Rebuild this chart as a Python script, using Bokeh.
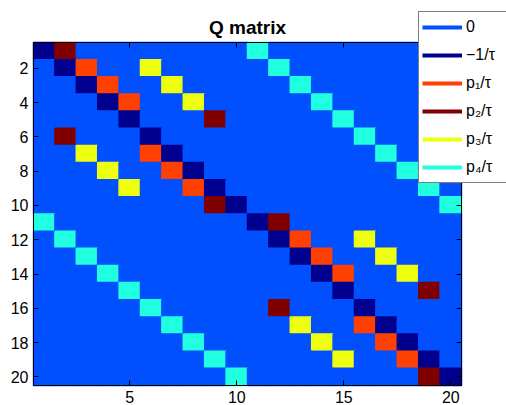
from bokeh.plotting import figure
from bokeh.models import (Range1d, LinearAxis, FixedTicker, ColumnDataSource, Legend,
                          LegendItem, Label)
from bokeh.embed import file_html
from bokeh.resources import INLINE

N = 20
# non-zero entries of Q (row, col), 1-based
neg_rows = list(range(1, 21))
neg_cols = list(range(1, 21))
p1_rows = [2, 3, 4, 7, 8, 9, 12, 13, 14, 17, 18, 19]
p1_cols = [3, 4, 5, 6, 7, 8, 13, 14, 15, 16, 17, 18]
p2_rows = [1, 5, 6, 10, 11, 15, 16, 20]
p2_cols = [2, 9, 2, 9, 12, 19, 12, 19]
p3_rows = [2, 3, 4, 7, 8, 9, 12, 13, 14, 17, 18, 19]
p3_cols = [6, 7, 8, 3, 4, 5, 16, 17, 18, 13, 14, 15]
p4_rows = list(range(1, 21))
p4_cols = list(range(11, 21)) + list(range(1, 11))

labels = ["0", "\u22121/\u03c4", "p\u2081/\u03c4", "p\u2082/\u03c4", "p\u2083/\u03c4", "p\u2084/\u03c4"]
colors = ["#0050ff", "#00008f", "#ff4000", "#800000", "#efff10", "#20ffdf"]
x_ticks = [5, 10, 15, 20]
y_ticks = [2, 4, 6, 8, 10, 12, 14, 16, 18, 20]
title_text = "Q matrix"

code = [[0] * N for _ in range(N)]
for k, (rr, cc) in enumerate([(neg_rows, neg_cols), (p1_rows, p1_cols), (p2_rows, p2_cols),
                               (p3_rows, p3_cols), (p4_rows, p4_cols)], start=1):
    for r, c in zip(rr, cc):
        code[r - 1][c - 1] = k

xs, ys, cs = [], [], []
for r in range(N):
    for c in range(N):
        xs.append(c + 1)
        ys.append(r + 1)
        cs.append(colors[code[r][c]])
src = ColumnDataSource(dict(x=xs, y=ys, color=cs))

# layout (pixels): canvas, and where the matrix box sits in it
W, H = 506, 405
LEFT, TOP, MW, MH = 33, 42, 428, 343
lo, hi = 0.5, N + 0.5
x0 = lo - N * LEFT / MW
x1 = lo + N * (W - LEFT) / MW
y_top = lo - N * TOP / MH
y_bot = lo + N * (H - TOP) / MH

FONT = "Liberation Sans"
p = figure(width=W, height=H, output_backend="svg", toolbar_location=None,
           x_range=Range1d(x0, x1), y_range=Range1d(y_bot, y_top),
           min_border_left=0, min_border_right=0, min_border_top=0, min_border_bottom=0)
p.outline_line_color = None
p.xgrid.visible = False
p.ygrid.visible = False
p.background_fill_color = "white"
p.border_fill_color = "white"

p.rect(x="x", y="y", width=1, height=1, fill_color="color", line_color="color",
       line_width=1.5, source=src)

def style(ax, show, loc):
    ax.fixed_location = loc
    ax.bounds = (lo, hi)
    ax.axis_line_color = "black"
    ax.axis_line_width = 1
    ax.major_tick_in = 5
    ax.major_tick_out = 0
    ax.minor_tick_line_color = None
    ax.major_tick_line_color = "black"
    ax.major_label_text_font = FONT
    ax.major_label_text_font_size = "16px" if show else "0px"
    ax.major_label_text_color = "black" if show else None
    ax.major_label_standoff = 5

xt = FixedTicker(ticks=x_ticks)
yt = FixedTicker(ticks=y_ticks)
p.xaxis.ticker = xt
p.yaxis.ticker = yt
style(p.xaxis[0], True, hi)
style(p.yaxis[0], True, lo)
top = LinearAxis(ticker=xt)
right = LinearAxis(ticker=yt)
style(top, False, lo)
style(right, False, hi)
p.add_layout(top, "above")
p.add_layout(right, "right")

p.add_layout(Label(x=(lo + hi) / 2, y=H - 27, x_units="data", y_units="screen",
                   text=title_text, text_align="center", text_baseline="alphabetic",
                   text_font=FONT, text_font_size="19px", text_font_style="bold",
                   text_color="black"))

nan = float("nan")
items = []
for lab, col in zip(labels, colors):
    r = p.line(x=[nan], y=[nan], line_color=col, line_width=4)
    items.append(LegendItem(label=lab, renderers=[r]))
leg = Legend(items=items, location=(418, H - 183))
leg.border_line_color = "black"
leg.border_line_width = 1
leg.background_fill_color = "white"
leg.background_fill_alpha = 1
leg.padding = 3
leg.spacing = 4
leg.glyph_width = 40
leg.glyph_height = 24
leg.label_height = 24
leg.label_width = 60
leg.label_standoff = 4
leg.margin = 0
leg.label_text_font = FONT
leg.label_text_font_size = "16px"
leg.label_text_color = "black"
p.add_layout(leg, "center")

open("out.html", "w").write(file_html(p, INLINE))
